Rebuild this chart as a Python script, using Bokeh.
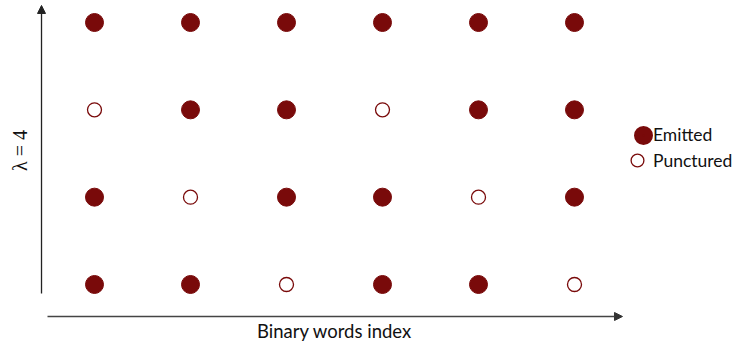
from bokeh.plotting import figure
from bokeh.models import Arrow, NormalHead, Label, Legend, LegendItem, Range1d, ColumnDataSource
from bokeh.embed import file_html
from bokeh.resources import INLINE

# ---- data ----
word_index = [1, 2, 3, 4, 5, 6]
levels = [1, 2, 3, 4]  # bottom to top
# 1 = emitted, 0 = punctured; rows listed from level 1 (bottom) to level 4 (top)
status = [
    [1, 1, 0, 1, 1, 0],
    [1, 0, 1, 1, 0, 1],
    [0, 1, 1, 0, 1, 1],
    [1, 1, 1, 1, 1, 1],
]
x_label = "Binary words index"
y_label = "\u03bb = 4"
legend_labels = ["Emitted", "Punctured"]

em_x, em_y, pu_x, pu_y = [], [], [], []
for lvl, row in zip(levels, status):
    for xi, s in zip(word_index, row):
        if s:
            em_x.append(xi); em_y.append(lvl)
        else:
            pu_x.append(xi); pu_y.append(lvl)

em_src = ColumnDataSource(dict(x=em_x, y=em_y))
pu_src = ColumnDataSource(dict(x=pu_x, y=pu_y))

RED = "#790a0a"
W, H = 739, 347
p = figure(width=W, height=H, output_backend="svg", toolbar_location=None,
           x_range=Range1d(0.0208, 7.7188), y_range=Range1d(0.2786, 4.252),
           min_border=0, min_border_left=0, min_border_right=0,
           min_border_top=0, min_border_bottom=0)
p.extra_x_ranges = {"key": Range1d(100, 200)}  # maps the legend-key copy off the canvas
p.xaxis.visible = False
p.yaxis.visible = False
p.grid.visible = False
p.outline_line_color = None
p.background_fill_color = "white"

em = p.scatter(x="x", y="y", source=em_src, size=18, marker="circle",
               fill_color=RED, line_color=RED, line_width=1)
pu = p.scatter(x="x", y="y", source=pu_src, size=14, marker="circle",
               fill_color="white", line_color=RED, line_width=1.3)
# legend-key look for the filled marker (its copy lies outside the canvas)
em_key = p.scatter(x="x", y="y", source=em_src, size=18, marker="circle",
                   fill_color=RED, line_color=RED, line_width=11, x_range_name="key")

# axis arrows
p.add_layout(Arrow(end=NormalHead(size=8, fill_color="#222", line_color="#222"),
                   x_start=0.448, y_start=0.897, x_end=0.448, y_end=4.195,
                   line_color="#222", line_width=1.3))
p.add_layout(Arrow(end=NormalHead(size=8, fill_color="#333", line_color="#333"),
                   x_start=0.5104, y_start=0.6336, x_end=6.5, y_end=0.6336,
                   line_color="#444", line_width=1.5))

p.add_layout(Label(x=3.5, y=0.473, text=x_label, text_align="center", text_baseline="middle",
                   text_font="Lato", text_font_size="18.5px", text_color="#111"))
p.add_layout(Label(x=0.219, y=2.534, text=y_label, text_align="center", text_baseline="middle",
                   angle=1.5708, text_font="Liberation Serif", text_font_size="20px", text_color="#111"))

common = dict(padding=0, margin=0, spacing=0, label_standoff=0, label_height=20,
              label_text_font="Lato", label_text_font_size="17.5px",
              label_text_color="#111", border_line_color=None, background_fill_alpha=0)
leg1 = Legend(items=[LegendItem(label=legend_labels[0], renderers=[em_key])],
              location=(633, 202), glyph_width=20, glyph_height=20, **common)
leg2 = Legend(items=[LegendItem(label=legend_labels[1], renderers=[pu])],
              location=(621, 171), glyph_width=32, glyph_height=32, **common)
p.add_layout(leg1)
p.add_layout(leg2)

open("out.html", "w").write(file_html(p, INLINE))
